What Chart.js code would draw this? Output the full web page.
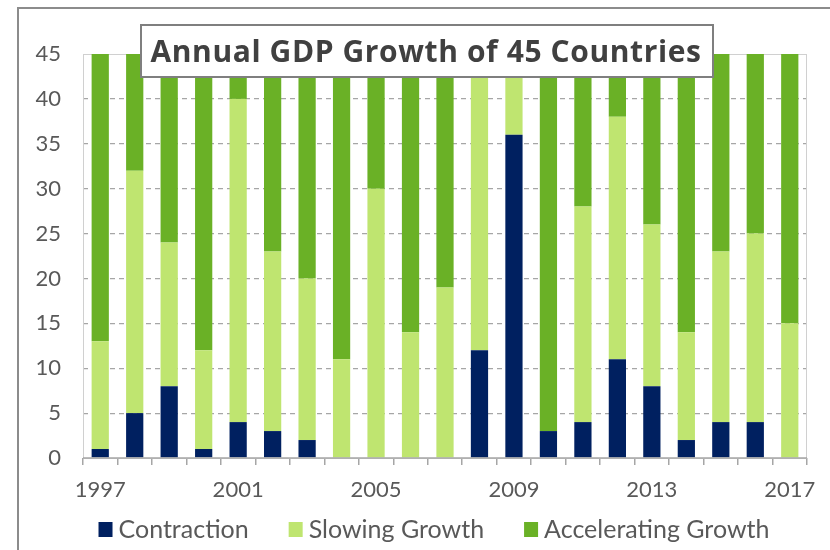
<!DOCTYPE html>
<html>
<head>
<meta charset="utf-8">
<script src="https://cdn.jsdelivr.net/npm/chart.js@4/dist/chart.umd.min.js"></script>
<style>
  html, body { margin: 0; padding: 0; background: #fff; }
  #wrap { width: 830px; height: 550px; }
</style>
</head>
<body>
<div id="wrap"><canvas id="grafico" width="830" height="550"></canvas></div>
<script>
// datos
const anios = ["1997","1998","1999","2000","2001","2002","2003","2004","2005","2006","2007",
               "2008","2009","2010","2011","2012","2013","2014","2015","2016","2017"];
const contraccion  = [1, 5, 8, 1, 4, 3, 2, 0, 0, 0, 0, 12, 36, 3, 4, 11, 8, 2, 4, 4, 0];
const desaceleracion = [12, 27, 16, 11, 36, 20, 18, 11, 30, 14, 19, 33, 9, 0, 24, 27, 18, 12, 19, 21, 15];
const aceleracion  = [32, 13, 21, 33, 5, 22, 25, 34, 15, 31, 26, 0, 0, 42, 17, 7, 19, 31, 22, 20, 30];
const etiquetasX = ["1997", "2001", "2005", "2009", "2013", "2017"];
const ticksY = [0, 5, 10, 15, 20, 25, 30, 35, 40, 45];
const titulo = "Annual GDP Growth of 45 Countries";

const fuente = "Lato, 'Open Sans', sans-serif";
const gris = "#595959";

// marco, bordes del area, leyenda y titulo
const extras = {
    id: "extras",
    beforeDatasetsDraw(chart) {
        const { ctx, chartArea: a } = chart;
        ctx.save();
        ctx.strokeStyle = "#d0d0d0";
        ctx.lineWidth = 1;
        ctx.strokeRect(a.left + 0.5, a.top + 0.5, a.right - a.left - 1, a.bottom - a.top);
        ctx.restore();
    },
    afterDraw(chart) {
        const { ctx, chartArea: a } = chart;
        ctx.save();
        // eje x
        ctx.strokeStyle = "#a6a6a6";
        ctx.lineWidth = 1.5;
        ctx.beginPath();
        ctx.moveTo(a.left, a.bottom);
        ctx.lineTo(a.right, a.bottom);
        ctx.stroke();

        // leyenda propia (para copiar el espaciado de Excel)
        ctx.font = "25px " + fuente;
        ctx.textBaseline = "middle";
        ctx.textAlign = "left";
        const caja = 14, sep = 6, hueco = 40, yLey = 529;
        const items = chart.data.datasets.map(d => ({ txt: d.label, col: d.backgroundColor, w: ctx.measureText(d.label).width }));
        let total = items.reduce((s, it) => s + caja + sep + it.w, 0) + hueco * (items.length - 1);
        let x = 434 - total / 2;
        items.forEach(it => {
            ctx.fillStyle = it.col;
            ctx.fillRect(x, yLey - 7, caja, 15);
            ctx.fillStyle = gris;
            ctx.fillText(it.txt, x + caja + sep, yLey + 1);
            x += caja + sep + it.w + hueco;
        });

        // marco exterior
        ctx.strokeStyle = "#8c8c8c";
        ctx.lineWidth = 2;
        ctx.beginPath();
        ctx.moveTo(18, 560);
        ctx.lineTo(18, 8);
        ctx.lineTo(840, 8);
        ctx.stroke();

        // caja del titulo
        ctx.fillStyle = "#ffffff";
        ctx.fillRect(141, 25, 572, 52);
        ctx.strokeStyle = "#7f7f7f";
        ctx.lineWidth = 2;
        ctx.strokeRect(141, 25, 572, 52);
        ctx.fillStyle = "#404040";
        ctx.font = "bold 30px 'Open Sans', sans-serif";
        ctx.letterSpacing = "0.6px";
        ctx.textAlign = "center";
        ctx.textBaseline = "alphabetic";
        ctx.fillText(titulo, 426, 62);
        ctx.restore();
    }
};

const ctx = document.getElementById("grafico").getContext("2d");
const miGrafico = new Chart(ctx, {
    type: "bar",
    data: {
        labels: anios,
        datasets: [
            { label: "Contraction", data: contraccion, backgroundColor: "#002060" },
            { label: "Slowing Growth", data: desaceleracion, backgroundColor: "#bfe570" },
            { label: "Accelerating Growth", data: aceleracion, backgroundColor: "#6ab126" }
        ]
    },
    options: {
        responsive: false,
        animation: false,
        datasets: { bar: { barPercentage: 0.5, categoryPercentage: 1.0 } },
        layout: { padding: { left: 0, top: 54, right: 23, bottom: 44 } },
        plugins: {
            title: { display: false },
            tooltip: { enabled: false },
            legend: { display: false }
        },
        scales: {
            x: {
                stacked: true,
                afterFit(s) { s.height = 48; },
                border: { display: false },
                grid: { display: true, drawOnChartArea: false, drawTicks: true, tickLength: 7, color: "#a6a6a6", lineWidth: 1.5 },
                ticks: {
                    autoSkip: false, maxRotation: 0, padding: 12,
                    color: gris, font: { family: fuente, size: 22 },
                    callback(v) {
                        const t = this.getLabelForValue(v);
                        return etiquetasX.includes(t) ? t : "";
                    }
                }
            },
            y: {
                stacked: true,
                min: 0, max: 45,
                afterFit(s) { s.width = 83; },
                afterBuildTicks(s) { s.ticks = ticksY.map(v => ({ value: v })); },
                border: { display: false, dash: [5, 4] },
                grid: {
                    drawTicks: false,
                    color: (c) => (c.tick && (c.tick.value === 0 || c.tick.value === 45)) ? "rgba(0,0,0,0)" : "#a6a6a6",
                    lineWidth: 1.2
                },
                ticks: { padding: 22, color: gris, font: { family: fuente, size: 22 } }
            }
        }
    },
    plugins: [extras]
});
</script>
</body>
</html>
